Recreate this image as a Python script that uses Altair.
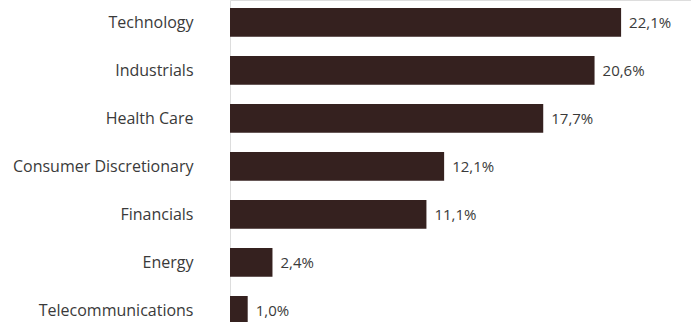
import altair as alt
import pandas as pd

sectors = ["Technology", "Industrials", "Health Care", "Consumer Discretionary",
           "Financials", "Energy", "Telecommunications"]
weights = [22.1, 20.6, 17.7, 12.1, 11.1, 2.4, 1.0]

df = pd.DataFrame({"sector": sectors, "weight": weights})
df["label"] = [f"{w:.1f}".replace(".", ",") + "%" for w in weights]

FONT = "Open Sans"
BAR = "#35211f"
TXT = "#3a3a3a"
FS = 16

x = alt.X("weight:Q", scale=alt.Scale(domain=[0, 26.05], nice=False), axis=None)
y = alt.Y("sector:N", sort=sectors,
          scale=alt.Scale(paddingInner=0.4, paddingOuter=0.2, range=[-1.6, 334.4]),
          axis=alt.Axis(title=None, ticks=False, domain=False, grid=False,
                        domainColor="transparent", gridColor="transparent",
                        tickColor="transparent",
                        labelPadding=37, labelFont=FONT, labelFontSize=FS,
                        labelColor=TXT, labelLimit=300, labelOffset=1))

bars = alt.Chart(df).mark_bar(color=BAR).encode(x=x, y=y)
text = alt.Chart(df).mark_text(align="left", baseline="middle", dx=8, dy=1,
                               font=FONT, fontSize=FS - 1, color=TXT).encode(
    x=x, y=y, text="label:N")

chart = (bars + text).properties(
    width=461, height=322,
    autosize=alt.AutoSizeParams(type="none"),
    padding={"left": 230, "top": 0, "right": 0, "bottom": 0},
).configure_view(
    stroke=None, fill="white"
).configure_axis(
    domain=False, grid=False, ticks=False, domainColor="transparent"
).configure(background="white")

chart.save("out.html", embed_options={"renderer": "svg", "actions": False})
